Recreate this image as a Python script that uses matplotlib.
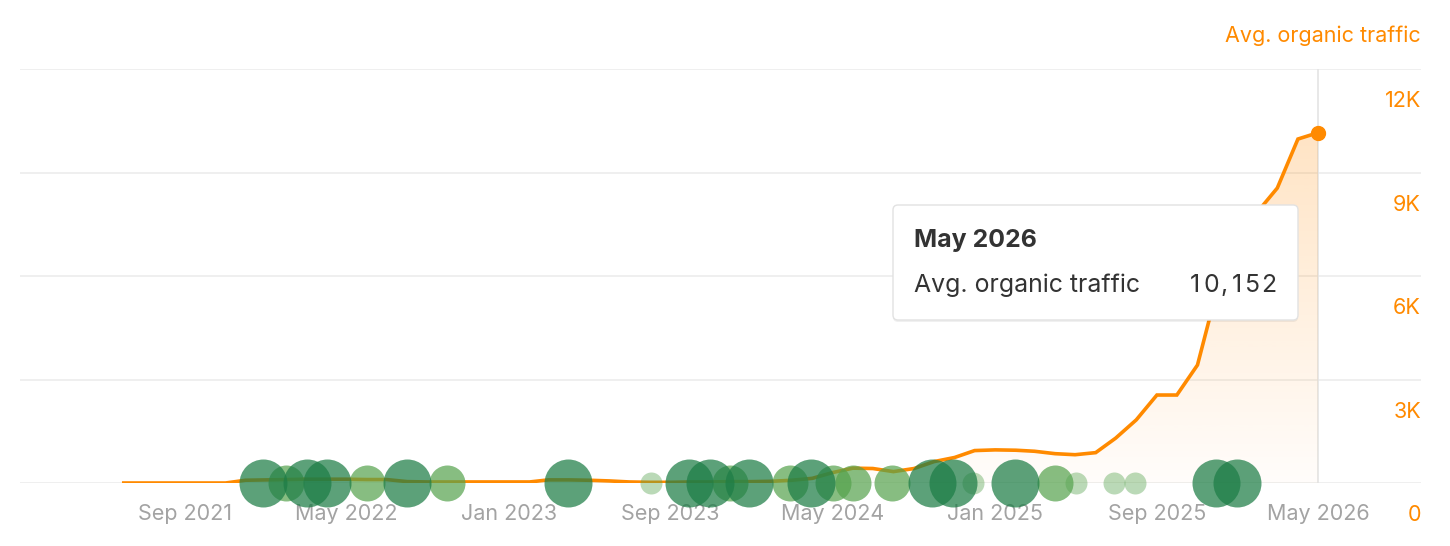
import matplotlib
matplotlib.use("Agg")
import matplotlib.pyplot as plt
import matplotlib.dates as mdates
import matplotlib.colors as mcolors
import numpy as np
import pandas as pd
from matplotlib.patches import FancyBboxPatch
from matplotlib.transforms import ScaledTranslation, IdentityTransform

plt.rcParams['font.family'] = ['Inter', 'DejaVu Sans']

ORANGE = '#ff8a00'
GREY_TXT = '#a3a3a3'

# monthly avg. organic traffic, Jun 2021 .. May 2026
months = pd.date_range('2021-06-01', '2026-05-01', freq='MS')
traffic = [
    0, 0, 0, 0, 0, 0, 80,                                             # 2021
    90, 100, 110, 110, 110, 100, 100, 40, 30, 30, 30, 30,              # 2022
    30, 30, 90, 90, 80, 60, 30, 20, 20, 30, 30, 40,                    # 2023
    40, 50, 80, 135, 300, 430, 420, 330, 420, 620, 740, 940,           # 2024
    960, 950, 920, 850, 820, 880, 1300, 1830, 2550, 2550, 3420, 5650,  # 2025
    6800, 7900, 8550, 9970, 10152,                                     # 2026
]

# google updates shown as bubbles on the zero line
bubble_dates = pd.to_datetime([
    '2021-12-28', '2022-01-31', '2022-03-03', '2022-04-02', '2022-06-02',
    '2022-08-01', '2022-09-30', '2023-03-31', '2023-08-02', '2023-09-29',
    '2023-10-30', '2023-11-29', '2023-12-28', '2024-02-27', '2024-03-30',
    '2024-05-02', '2024-06-01', '2024-07-30', '2024-09-28', '2024-10-29',
    '2024-11-28', '2025-01-31', '2025-04-01', '2025-05-02', '2025-06-28',
    '2025-07-30', '2025-11-29', '2025-12-30',
])
bubble_kinds = [
    'major', 'minor', 'major', 'major', 'minor',
    'major', 'minor', 'major', 'small', 'major',
    'major', 'minor', 'major', 'minor', 'major',
    'minor', 'minor', 'minor', 'major', 'major',
    'small', 'major', 'minor', 'small', 'small',
    'small', 'major', 'major',
]
kind_style = {
    'major': dict(s=1194, color='#1d7d46', alpha=0.72),
    'minor': dict(s=672, color='#54a24c', alpha=0.70),
    'small': dict(s=251, color='#54a24c', alpha=0.40),
}

tick_dates = pd.to_datetime(['2021-09-01', '2022-05-01', '2023-01-01', '2023-09-01',
                             '2024-05-01', '2025-01-01', '2025-09-01', '2026-05-01'])
tick_labels = [d.strftime('%b %Y') for d in tick_dates]
y_ticks = [0, 3000, 6000, 9000, 12000]
y_labels = ['0', '3K', '6K', '9K', '12K']

W, H = 1450, 546
fig = plt.figure(figsize=(W / 100, H / 100), dpi=100)
ax = fig.add_axes([20 / W, 63 / H, 1401 / W, 414 / H])

x = mdates.date2num(months)
y = np.array(traffic, dtype=float)

# gradient area under the line
poly = ax.fill_between(x, y, 0, color='none', lw=0)
rgb = mcolors.to_rgb(ORANGE)
grad = np.zeros((256, 1, 4))
grad[..., :3] = rgb
grad[:, 0, 3] = np.linspace(0.02, 0.27, 256)
im = ax.imshow(grad, extent=[x[0], x[-1], 0, 12000], origin='lower',
               aspect='auto', zorder=2, interpolation='bilinear')
im.set_clip_path(poly.get_paths()[0], transform=ax.transData)

# hover crosshair
ax.vlines(x[-1], 0, 12000, color='#e4e4e4', lw=1.2, zorder=1)

ax.plot(x, y, color=ORANGE, lw=2.6, zorder=3, solid_joinstyle='miter')
ax.plot(x[-1], y[-1], 'o', color=ORANGE, ms=10, zorder=4)

bx = mdates.date2num(bubble_dates)
for kind in ['small', 'minor', 'major']:
    sel = [i for i, k in enumerate(bubble_kinds) if k == kind]
    st = kind_style[kind]
    ax.scatter(bx[sel], np.zeros(len(sel)), s=st['s'], color=st['color'],
               alpha=st['alpha'], lw=0, zorder=5, clip_on=False)

left = mdates.date2num(pd.Timestamp('2021-09-01')) - 248
right = mdates.date2num(pd.Timestamp('2026-05-01')) + 155
ax.set_xlim(left, right)
ax.set_ylim(0, 12000)

ax.set_xticks(mdates.date2num(tick_dates))
ax.set_xticklabels(tick_labels)
ax.tick_params(axis='x', length=0, pad=15, labelsize=15.5, labelcolor=GREY_TXT)

ax.yaxis.tick_right()
ax.set_yticks(y_ticks)
ax.set_yticklabels(y_labels)
ax.tick_params(axis='y', length=0, pad=0, labelsize=15.5, labelcolor=ORANGE)
shift = ScaledTranslation(0, -30 / 100, fig.dpi_scale_trans)
for lab in ax.get_yticklabels():
    lab.set_horizontalalignment('right')
    lab.set_transform(lab.get_transform() + shift)

ax.yaxis.grid(True, color='#ebebeb', lw=1.1)
ax.set_axisbelow(True)
for sp in ax.spines.values():
    sp.set_visible(False)

fig.text(1421 / W, (H - 36) / H, 'Avg. organic traffic', ha='right', va='center',
         color=ORANGE, fontsize=15.5)

# tooltip
tx0, ty0, tw, th = 893, H - 320, 405, 115
shadow = FancyBboxPatch((tx0, ty0 - 2), tw, th, boxstyle='round,pad=0,rounding_size=5',
                        transform=IdentityTransform(), facecolor='#000000', alpha=0.06,
                        lw=0, zorder=10)
box = FancyBboxPatch((tx0, ty0), tw, th, boxstyle='round,pad=0,rounding_size=5',
                     transform=IdentityTransform(), facecolor='white',
                     edgecolor='#e2e2e2', lw=1, zorder=11)
fig.add_artist(shadow)
fig.add_artist(box)
fig.text(914 / W, (H - 241) / H, months[-1].strftime('%b %Y'), fontweight='bold',
         fontsize=17.9, color='#333333', va='center', zorder=12)
fig.text(914 / W, (H - 285) / H, 'Avg. organic traffic', fontsize=17.9,
         color='#333333', va='center', zorder=12)

# value with tabular digit spacing, right-aligned
value_txt = f'{traffic[-1]:,}'
xr = 1277
for ch in reversed(value_txt):
    adv = 10 if ch == ',' else 16
    fig.text((xr - adv / 2) / W, (H - 285) / H, ch, fontsize=17.9, ha='center',
             color='#333333', va='center', zorder=12)
    xr -= adv

fig.savefig('out.png', dpi=100)
